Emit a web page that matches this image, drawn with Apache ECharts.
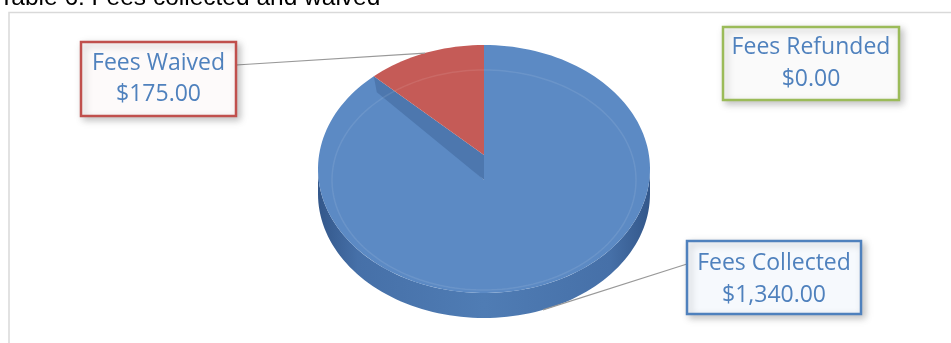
<!DOCTYPE html>
<html><head><meta charset="utf-8">
<script src="https://cdn.jsdelivr.net/npm/echarts@6/dist/echarts.min.js"></script>
<style>html,body{margin:0;padding:0;background:#fff;overflow:hidden}#c{width:951px;height:343px}</style>
</head><body><div id="c"></div>
<script>
// ---- data ----
const categories = ['Fees Collected', 'Fees Waived', 'Fees Refunded'];
const values = [1340, 175, 0];
const titleText = 'Table 6: Fees collected and waived';

// ---- layout & style (not data) ----
const G = {cx: 484, cy: 169, rx: 166, ry: 124, depth: 25};
const vertexShift = [11, -14, 0];
const topColors = ['#5c8ac4', '#c55b57', '#9bbb59'];
const boxes = [
  {x: 687, y: 241, w: 174, h: 73, stroke: '#4f81bd', fill: '#f6f9fd', l1: 263, l2: 295},
  {x: 81, y: 42, w: 155, h: 74, stroke: '#c0504d', fill: '#fdfafa', l1: 63, l2: 94},
  {x: 723, y: 27, w: 176, h: 73, stroke: '#9bbb59', fill: '#fafafa', l1: 47, l2: 79}
];
const labelFont = '23px "Open Sans"';
const textColor = '#4f81bd';

const total = values.reduce((a, b) => a + b, 0);
function rim(deg, dy) {
  const t = deg * Math.PI / 180;
  return [G.cx + G.rx * Math.sin(t), G.cy - G.ry * Math.cos(t) + (dy || 0)];
}
function arcPts(a0, a1, dy, e) {
  e = e || G;
  const pts = [];
  const n = Math.max(2, Math.ceil(Math.abs(a1 - a0) / 2));
  for (let i = 0; i <= n; i++) {
    const t = (a0 + (a1 - a0) * i / n) * Math.PI / 180;
    pts.push([e.cx + e.rx * Math.sin(t), e.cy - e.ry * Math.cos(t) + (dy || 0)]);
  }
  return pts;
}
function money(v) {
  return '$' + v.toLocaleString('en-US', {minimumFractionDigits: 2, maximumFractionDigits: 2});
}

function renderItem(params, api) {
  const idx = params.dataIndex;
  const v = api.value(0);
  let before = 0;
  for (let i = 0; i < idx; i++) before += values[i];
  const start = before / total * 360;
  const end = start + v / total * 360;
  const children = [];
  if (v > 0) {
    const a = Math.max(start, 90), b = Math.min(end, 270);
    if (b > a) {
      const pts = arcPts(a, b, 0).concat(arcPts(b, a, G.depth));
      children.push({type: 'polygon', shape: {points: pts}, style: {
        fill: new echarts.graphic.LinearGradient(0, 0, 1, 0, [
          {offset: 0, color: '#33578a'}, {offset: 0.12, color: '#4670a8'},
          {offset: 0.5, color: '#4f7cb4'}, {offset: 0.88, color: '#4670a8'},
          {offset: 1, color: '#33578a'}])
      }});
    }
    const vtx = [G.cx, G.cy + vertexShift[idx]];
    children.push({type: 'polygon', shape: {points: [vtx].concat(arcPts(start, end, 0))},
      style: {fill: topColors[idx]}});
    const inner = {cx: G.cx, cy: G.cy + 11, rx: G.rx - 14, ry: G.ry - 14};
    children.push({type: 'polyline', shape: {points: arcPts(start, end, 0, inner)},
      style: {stroke: 'rgba(255,255,255,0.09)', lineWidth: 1.5, fill: null}});
    if (idx === 0 && end < 360) {
      const p = rim(end);
      children.push({type: 'polygon', shape: {points: [
        p, [G.cx, G.cy + vertexShift[1]], [G.cx, G.cy + vertexShift[0]], [p[0] + 3, p[1] + 16]]},
        style: {fill: '#4d77ae'}});
    }
    const mid = (start + end) / 2;
    const bx = boxes[idx];
    let p0;
    const onFront = mid > 90 && mid < 270;
    const p1 = onFront ? rim(mid, G.depth) : rim(mid);
    if (bx.x > G.cx) p0 = [bx.x, bx.l1 + 1]; else p0 = [bx.x + bx.w, bx.l1 + 2];
    children.push({type: 'line', shape: {x1: p0[0], y1: p0[1], x2: p1[0], y2: p1[1]},
      style: {stroke: '#999999', lineWidth: 1.2}});
  }
  const bx = boxes[idx];
  children.push({type: 'rect', shape: {x: bx.x, y: bx.y, width: bx.w, height: bx.h},
    style: {fill: bx.fill, stroke: bx.stroke, lineWidth: 2.5,
      shadowBlur: 7, shadowOffsetX: 3, shadowOffsetY: 3, shadowColor: 'rgba(0,0,0,0.22)'}});
  children.push({type: 'text', style: {x: bx.x + bx.w / 2, y: bx.l1, text: categories[idx],
    font: labelFont, fill: textColor, align: 'center', verticalAlign: 'middle'}});
  children.push({type: 'text', style: {x: bx.x + bx.w / 2, y: bx.l2, text: money(v),
    font: labelFont, fill: textColor, align: 'center', verticalAlign: 'middle'}});
  return {type: 'group', children: children};
}

const chart = echarts.init(document.getElementById('c'), null, {renderer: 'canvas'});
chart.setOption({
  animation: false,
  graphic: [
    {type: 'rect', shape: {x: 9, y: 12.5, width: 1000, height: 400},
      style: {fill: '#fff', stroke: '#d9d9d9', lineWidth: 1.5}, z: -10},
    {type: 'text', style: {x: -1, y: 11, text: titleText, font: '24.5px "Liberation Sans", Arial',
      fill: '#000', verticalAlign: 'bottom'}, z: 10}
  ],
  series: [{
    type: 'custom',
    coordinateSystem: 'none',
    renderItem: renderItem,
    data: values.map((v, i) => ({name: categories[i], value: [v]})),
    z: 2
  }]
});
</script></body></html>
